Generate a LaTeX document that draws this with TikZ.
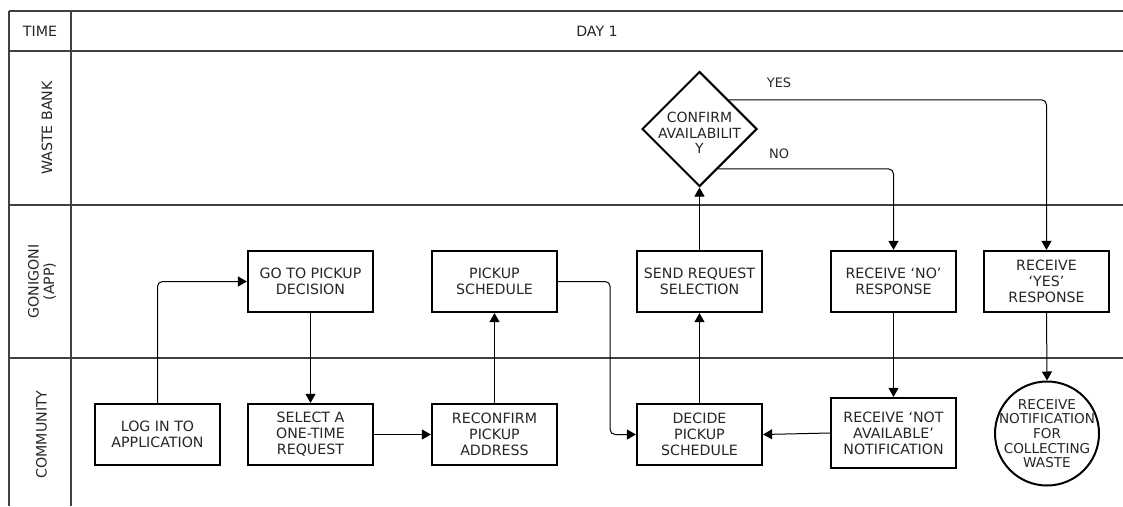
\documentclass[tikz,border=0pt]{standalone}
\usepackage{fontspec}
\setmainfont{DejaVu Sans}
\usetikzlibrary{arrows.meta, shapes.geometric}

\begin{document}
\begin{tikzpicture}[
  x=1pt, y=-1pt,
  task/.style={rectangle, draw=black, line width=2.2pt, minimum width=125pt, minimum height=61pt,
    inner sep=1pt, align=center, text=black!85, font=\fontsize{14.2}{16}\selectfont},
  check/.style={diamond, draw=black, line width=2pt, minimum size=115pt, inner sep=0pt},
  finish/.style={circle, draw=black, line width=2pt, minimum size=104pt, inner sep=0pt},
  inside/.style={align=center, text=black!85, font=\fontsize{14}{15.5}\selectfont},
  lane/.style={align=center, text=black!85, font=\fontsize{14.2}{15.5}\selectfont},
  lanes/.style={draw=black!75, line width=1.3pt},
  lbl/.style={text=black!85, font=\fontsize{13}{14}\selectfont},
  flow/.style={-{Triangle[length=9pt, width=10pt]}, line width=1pt, rounded corners=5pt}
]
  \useasboundingbox (0,0) rectangle (1123,506);

  % swimlane grid
  \draw[lanes] (9,11) -- (1123,11);
  \draw[lanes] (9,51) -- (1123,51);
  \draw[lanes] (9,205) -- (1123,205);
  \draw[lanes] (9,358) -- (1123,358);
  \draw[lanes] (9,11) -- (9,506);
  \draw[lanes] (71,11) -- (71,506);

  \node[lane] (time) at (40,31) {TIME};
  \node[lane] (day) at (597,31) {DAY 1};
  \node[lane, rotate=90] (bank) at (47,128) {WASTE BANK};
  \node[lane, rotate=90] (app) at (42,281.5) {GONIGONI\\(APP)};
  \node[lane, rotate=90] (comm) at (41.5,434.5) {COMMUNITY};

  % process steps
  \node[task] (login) at (157.5,434.5) {LOG IN TO\\APPLICATION};
  \node[task] (goto) at (310.5,281.5) {GO TO PICKUP\\DECISION};
  \node[task] (select) at (310.5,434.5) {SELECT A\\ONE-TIME\\REQUEST};
  \node[task] (sched) at (494.5,281.5) {PICKUP\\SCHEDULE};
  \node[task] (reconfirm) at (494.5,434.5) {RECONFIRM\\PICKUP\\ADDRESS};
  \node[task] (send) at (699.5,281.5) {SEND REQUEST\\SELECTION};
  \node[task] (decide) at (699.5,434.5) {DECIDE\\PICKUP\\SCHEDULE};
  \node[check, label={[inside, yshift=-4pt]center:{CONFIRM\\AVAILABILIT\\Y}}] (avail) at (699.5,129) {};
  \node[task] (rno) at (893.5,281.5) {RECEIVE ‘NO’\\RESPONSE};
  \node[task, minimum height=70pt] (rna) at (893.5,433) {RECEIVE ‘NOT\\AVAILABLE’\\NOTIFICATION};
  \node[task] (ryes) at (1046.5,281.5) {RECEIVE\\‘YES’\\RESPONSE};
  \node[finish, label={[inside, font=\fontsize{13.6}{14.6}\selectfont]center:{RECEIVE\\NOTIFICATION\\FOR\\COLLECTING\\WASTE}}] (notify) at (1047,433.5) {};

  \node[lbl] (yes) at (779,83) {YES};
  \node[lbl] (no) at (779,154) {NO};

  % connectors
  \draw[flow] (login.north) |- (goto.west);
  \draw[flow] (goto.south) -- (select.north);
  \draw[flow] (select.east) -- (reconfirm.west);
  \draw[flow] (reconfirm.north) -- (sched.south);
  \draw[flow] (sched.east) -- ++(52,0) |- (decide.west);
  \draw[flow] (decide.north) -- (send.south);
  \draw[flow] (send.north) -- (avail.south);
  \draw[flow] (avail.north east) -| (ryes.north);
  \draw[flow] (avail.-65) -| (rno.north);
  \draw[flow] (rno.south) -- (rna.north);
  \draw[flow] (rna.west) -- (decide.east);
  \draw[flow] (ryes.south) -- (notify.north);
\end{tikzpicture}
\end{document}
